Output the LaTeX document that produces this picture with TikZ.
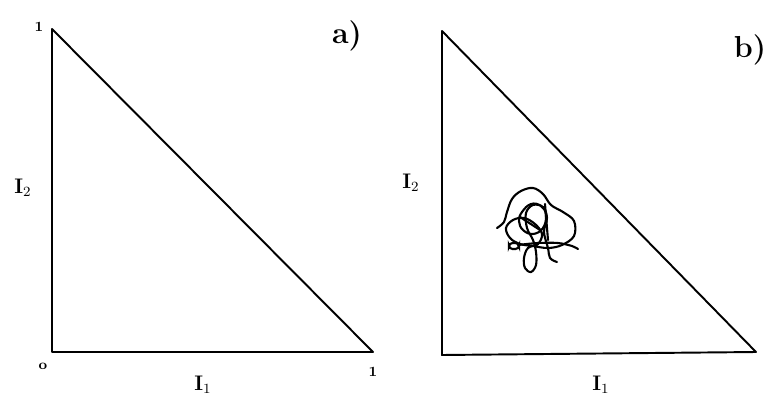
\documentclass[tikz,border=0pt]{standalone}
\usetikzlibrary{positioning}

\tikzset{
  edge/.style={line width=1.1pt,line join=round},
  curl/.style={line width=1.2pt,line cap=round},
  lab/.style={font=\large\bfseries},
  tick/.style={font=\footnotesize\bfseries},
  tag/.style={font=\LARGE\bfseries}
}

\begin{document}
\begin{tikzpicture}[x=0.02cm,y=-0.02cm]
  \useasboundingbox (0,0) rectangle (779,413);

  % a)
  \coordinate (aO) at (52,352);
  \coordinate (aT) at (52,29);
  \coordinate (aR) at (373,352);
  \draw[edge] (aT) -- (aO) -- (aR) -- cycle;
  \node[tick] (a1) at (39,27) {1};
  \node[tick] (a0) at (43,366) {o};
  \node[tick] (ar) at (373,372) {1};
  \node[lab] (ay) at (23,188) {I$_2$};
  \node[lab] (ax) at (203,385) {I$_1$};
  \node[tag] (atag) at (347,36) {a)};

  % b)
  \coordinate (bO) at (442,355);
  \coordinate (bT) at (442,31);
  \coordinate (bR) at (756,352);
  \draw[edge] (bT) -- (bO) -- (bR) -- cycle;
  \node[lab] (by) at (411,183) {I$_2$};
  \node[lab] (bx) at (601,385) {I$_1$};
  \node[tag] (btag) at (750,50) {b)};

  \draw[curl] plot[smooth,tension=0.6] coordinates {
    (497,228) (504,222) (507,212) (512,199) (521,191) (533,188) (543,194)
    (551,205) (563,212) (574,221) (574,236) (562,245) (548,248) (533,246)
    (520,244) (510,238) (506,228) (513,220) (524,218) (535,224) (542,234)
    (538,244) (528,248) (524,258) (525,268) (531,272) (536,265) (536,252)
    (533,240) (527,228) (526,213) (533,205) (543,207) (547,218) (544,232)
    (548,248) (550,258) (557,262)};
  \draw[curl] plot[smooth cycle,tension=0.7] coordinates {
    (522,212) (531,204) (541,206) (546,215) (543,228) (533,234) (523,230) (519,221)};
  \draw[curl] plot[smooth] coordinates {
    (518,245) (538,243) (558,243) (572,246) (578,249)};
  \draw[curl] (545,204) -- (548,240);
  \draw[curl] (520,217) -- (540,230);
  \draw[curl,rounded corners=2pt] (509,243) rectangle (519,249);
\end{tikzpicture}
\end{document}
